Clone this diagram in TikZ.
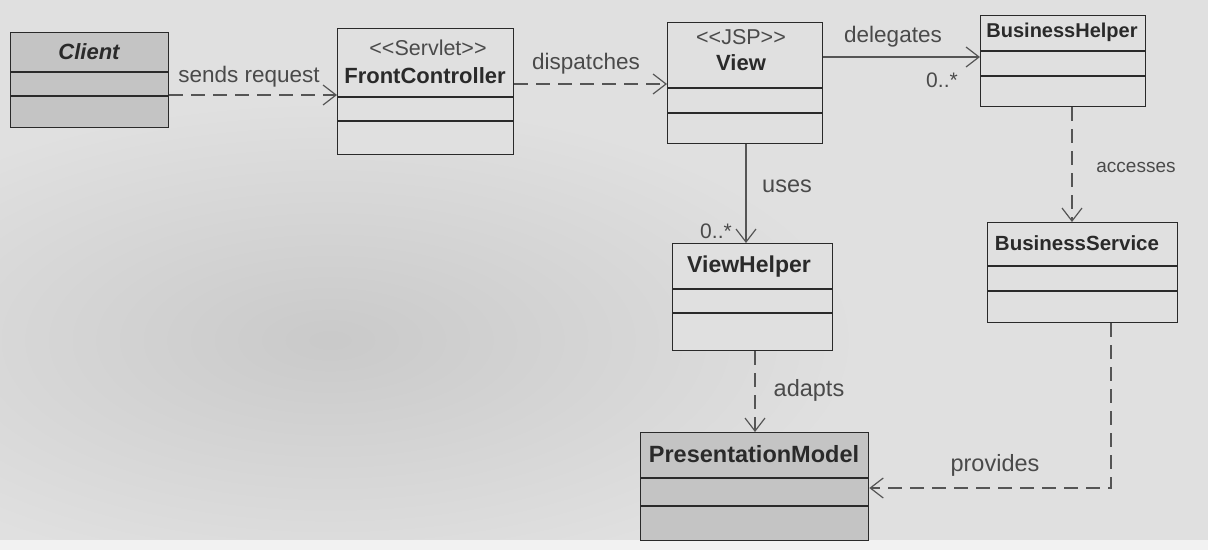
\documentclass[tikz,border=0pt]{standalone}
\usepackage{fontspec}
\setmainfont{Liberation Sans}
\usetikzlibrary{arrows.meta}

\definecolor{paper}{HTML}{E0E0E0}
\definecolor{paperlow}{HTML}{F2F2F2}
\definecolor{shade}{HTML}{C4C4C4}
\definecolor{ink}{HTML}{2A2A2A}
\definecolor{linkink}{HTML}{555555}
\definecolor{labelink}{HTML}{4A4A4A}

\newcommand\fsz[1]{\fontsize{#1}{#1}\selectfont}

\tikzset{
  classbox/.style={draw=ink, line width=1.3pt, rectangle, inner sep=0pt, anchor=north west},
  compline/.style={draw=ink, line width=1.3pt},
  cname/.style={font=\fsz{22}\bfseries, text=ink, inner sep=0pt},
  stereo/.style={font=\fsz{21.5}, text=labelink, inner sep=0pt},
  lbl/.style={font=\fsz{22.5}, text=labelink, inner sep=0pt},
  mult/.style={font=\fsz{21}, text=labelink, inner sep=0pt},
  assoc/.style={draw=linkink, line width=1.2pt, -{Straight Barb[length=13pt,width=20pt,line width=1.2pt]}},
  dep/.style={assoc, dash pattern=on 14pt off 8pt},
}

\begin{document}
\begin{tikzpicture}[x=1pt, y=-1pt]
  \useasboundingbox (0,0) rectangle (1208,550);
  % page with a soft shadow across its middle
  \begin{scope}
    \clip (0,0) rectangle (1208,540);
    \fill[paper] (0,0) rectangle (1208,540);
    \shade[inner color=paper!90!black, outer color=paper] (-200,100) rectangle (860,580);
  \end{scope}
  \fill[paperlow] (0,540) rectangle (1208,550);

  % classes
  \node[classbox, fill=shade, minimum width=158pt, minimum height=95pt] (client) at (10,32) {};
  \draw[compline] (client.west |- 0,72) -- (client.east |- 0,72);
  \draw[compline] (client.west |- 0,96) -- (client.east |- 0,96);
  \node[cname, font=\fsz{22}\bfseries\itshape] (clientname) at (89,52) {Client};

  \node[classbox, fill=paper, minimum width=176pt, minimum height=126pt] (fc) at (337,28) {};
  \draw[compline] (fc.west |- 0,97) -- (fc.east |- 0,97);
  \draw[compline] (fc.west |- 0,121) -- (fc.east |- 0,121);
  \node[stereo] (fcstereo) at (428,48) {{<}{<}Servlet{>}{>}};
  \node[cname] (fcname) at (425,76) {FrontController};

  \node[classbox, fill=paper, minimum width=155pt, minimum height=121pt] (view) at (667,22) {};
  \draw[compline] (view.west |- 0,88) -- (view.east |- 0,88);
  \draw[compline] (view.west |- 0,113) -- (view.east |- 0,113);
  \node[stereo] (viewstereo) at (741,37) {{<}{<}JSP{>}{>}};
  \node[cname] (viewname) at (741,63) {View};

  \node[classbox, fill=paper, minimum width=165pt, minimum height=91pt] (bh) at (980,15) {};
  \draw[compline] (bh.west |- 0,51) -- (bh.east |- 0,51);
  \draw[compline] (bh.west |- 0,76) -- (bh.east |- 0,76);
  \node[cname, font=\fsz{20}\bfseries] (bhname) at (1062,32) {BusinessHelper};

  \node[classbox, fill=paper, minimum width=190pt, minimum height=100pt] (bs) at (987,222) {};
  \draw[compline] (bs.west |- 0,266) -- (bs.east |- 0,266);
  \draw[compline] (bs.west |- 0,291) -- (bs.east |- 0,291);
  \node[cname, font=\fsz{20.5}\bfseries] (bsname) at (1077,243) {BusinessService};

  \node[classbox, fill=paper, minimum width=160pt, minimum height=107pt] (vh) at (672,243) {};
  \draw[compline] (vh.west |- 0,289) -- (vh.east |- 0,289);
  \draw[compline] (vh.west |- 0,313) -- (vh.east |- 0,313);
  \node[cname, font=\fsz{23}\bfseries] (vhname) at (749,267) {ViewHelper};

  \node[classbox, fill=shade, minimum width=228pt, minimum height=108pt] (pm) at (640,432) {};
  \draw[compline] (pm.west |- 0,478) -- (pm.east |- 0,478);
  \draw[compline] (pm.west |- 0,506) -- (pm.east |- 0,506);
  \node[cname, font=\fsz{23.5}\bfseries] (pmname) at (754,454) {PresentationModel};

  % relationships
  \draw[dep] (client.east |- 0,95) -- (fc.west |- 0,95);
  \node[lbl] (sendslbl) at (249,77) {sends request};

  \draw[dep] (fc.east |- 0,84) -- (view.west |- 0,84);
  \node[lbl] (displbl) at (586,64) {dispatches};

  \draw[assoc] (view.east |- 0,57) -- (bh.west |- 0,57);
  \node[lbl] (dellbl) at (893,37) {delegates};
  \node[mult] (delmult) at (942,80) {0..*};

  \draw[assoc] (view.south -| 746,0) -- (vh.north -| 746,0);
  \node[lbl, font=\fsz{23.5}] (useslbl) at (787,186) {uses};
  \node[mult] (usesmult) at (716,231) {0..*};

  \draw[dep] (bh.south -| 1072,0) -- (bs.north -| 1072,0);
  \node[lbl, font=\fsz{19}] (acclbl) at (1136,167) {accesses};

  \draw[dep] (vh.south -| 755,0) -- (pm.north -| 755,0);
  \node[lbl, font=\fsz{23.5}] (adaptslbl) at (809,390) {adapts};

  \coordinate (bend) at (1111,488);
  \draw[dep] (bs.south -| bend) -- (bend) -- (pm.east |- bend);
  \node[lbl, font=\fsz{23.5}] (provlbl) at (995,465) {provides};
\end{tikzpicture}
\end{document}
